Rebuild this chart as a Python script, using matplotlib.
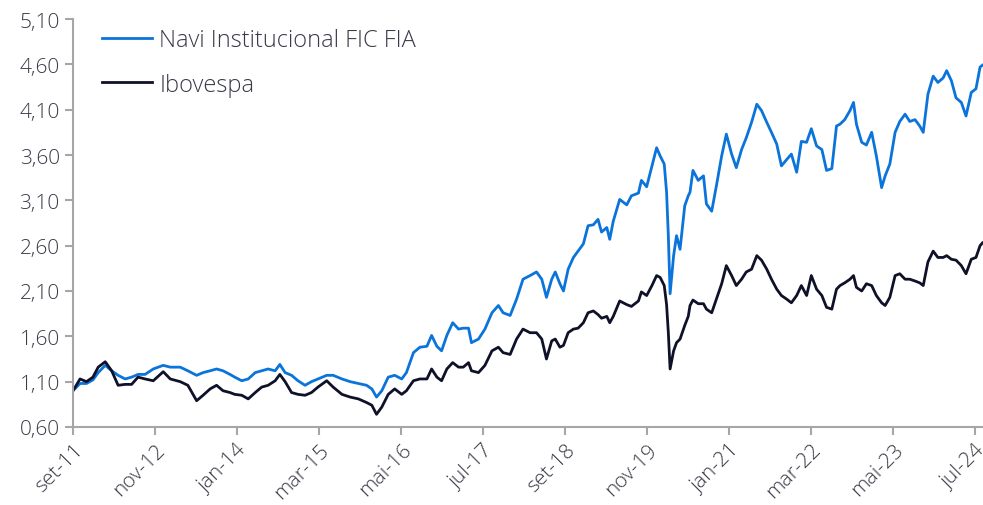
import matplotlib
matplotlib.use("Agg")
import matplotlib.pyplot as plt

# months since set-11 (x positions)
months = [
    0.0, 1.2, 2.3, 3.4, 4.3, 5.5, 6.6, 7.7, 8.9, 10.0, 11.1, 12.3, 13.7, 15.4,
    16.6, 18.3, 19.6, 21.1, 22.2, 23.4, 24.5, 25.6, 26.8, 27.6, 28.8, 29.9,
    31.1, 32.2, 33.3, 34.5, 35.3, 36.2, 37.3, 38.4, 39.6, 40.7, 41.8, 43.3,
    44.4, 45.9, 47.3, 48.7, 50.1, 51.0, 51.8, 52.7, 53.8, 54.9, 56.1, 56.9,
    58.1, 59.2, 60.4, 61.2, 62.1, 62.9, 63.8, 64.8, 65.8, 66.6, 67.5, 68.0,
    69.2, 70.3, 71.5, 72.6, 73.4, 74.6, 75.7, 76.8, 78.0, 79.1, 80.0, 80.8,
    81.7, 82.3, 83.1, 83.7, 84.5, 85.4, 86.2, 87.1, 87.9, 88.8, 89.6, 90.2,
    91.1, 91.6, 92.2, 93.3, 94.5, 95.3, 96.5, 97.0, 97.9, 98.8, 99.6, 100.2,
    100.9, 101.3, 101.6, 101.9, 102.5, 103.0, 103.6, 104.4, 105.0, 105.3,
    105.8, 106.7, 107.6, 108.1, 109.0, 109.8, 110.7, 111.5, 112.4, 113.2,
    114.1, 114.9, 115.8, 116.7, 117.5, 118.4, 119.2, 120.1, 120.9, 121.8,
    122.6, 123.5, 124.3, 125.2, 126.0, 126.9, 127.8, 128.6, 129.5, 130.3,
    130.9, 131.7, 132.6, 133.2, 133.7, 134.6, 135.4, 136.3, 137.1, 138.0,
    138.6, 139.4, 140.3, 141.1, 142.0, 142.8, 143.7, 144.5, 145.1, 145.9,
    146.8, 147.6, 148.5, 149.1, 149.9, 150.7, 151.6, 152.4, 153.3, 154.1,
    154.8, 155.2,
]

navi = [
    1.00, 1.08, 1.08, 1.12, 1.20, 1.28, 1.22, 1.17, 1.13, 1.15, 1.18, 1.18, 1.24, 1.28,
    1.26, 1.26, 1.22, 1.17, 1.20, 1.22, 1.24, 1.22, 1.18, 1.15, 1.11, 1.13,
    1.20, 1.22, 1.24, 1.22, 1.29, 1.20, 1.17, 1.11, 1.06, 1.10, 1.13, 1.17,
    1.17, 1.13, 1.10, 1.08, 1.06, 1.02, 0.93, 1.00, 1.15, 1.17, 1.13, 1.20,
    1.42, 1.48, 1.49, 1.61, 1.49, 1.44, 1.61, 1.75, 1.68, 1.69, 1.69, 1.53,
    1.57, 1.68, 1.86, 1.94, 1.86, 1.83, 2.01, 2.23, 2.27, 2.31, 2.23, 2.03,
    2.23, 2.31, 2.18, 2.10, 2.34, 2.47, 2.54, 2.62, 2.82, 2.83, 2.89, 2.75,
    2.80, 2.67, 2.87, 3.11, 3.05, 3.15, 3.18, 3.32, 3.25, 3.48, 3.68, 3.59,
    3.50, 3.19, 2.71, 2.07, 2.49, 2.71, 2.56, 3.04, 3.15, 3.19,
    3.43, 3.32, 3.37, 3.06, 2.98, 3.26, 3.59, 3.83, 3.61, 3.46,
    3.66, 3.79, 3.96, 4.16, 4.09, 3.96, 3.85, 3.72, 3.48, 3.55,
    3.61, 3.41, 3.75, 3.74, 3.89, 3.70, 3.66, 3.43, 3.45, 3.92,
    3.94, 3.99, 4.09, 4.18, 3.94, 3.74, 3.71, 3.85, 3.59, 3.24,
    3.37, 3.50, 3.85, 3.97, 4.05, 3.97, 3.99, 3.92, 3.85, 4.27,
    4.47, 4.40, 4.45, 4.53, 4.42, 4.23, 4.18, 4.03, 4.29, 4.33,
    4.57, 4.59,
]

ibov = [
    1.00, 1.13, 1.10, 1.15, 1.26, 1.32, 1.22, 1.06, 1.07, 1.07, 1.15, 1.13, 1.11, 1.21,
    1.13, 1.10, 1.06, 0.89, 0.95, 1.02, 1.06, 1.00, 0.98, 0.96, 0.95, 0.91,
    0.98, 1.04, 1.06, 1.11, 1.18, 1.10, 0.98, 0.96, 0.95, 0.98, 1.04, 1.11,
    1.04, 0.96, 0.93, 0.91, 0.87, 0.84, 0.74, 0.82, 0.96, 1.02, 0.96, 1.00,
    1.11, 1.13, 1.13, 1.24, 1.15, 1.11, 1.24, 1.31, 1.26, 1.26, 1.31, 1.22,
    1.20, 1.28, 1.44, 1.48, 1.42, 1.40, 1.57, 1.68, 1.64, 1.64, 1.57, 1.35,
    1.55, 1.57, 1.48, 1.50, 1.64, 1.68, 1.69, 1.75, 1.86, 1.88, 1.84, 1.80,
    1.82, 1.75, 1.82, 1.99, 1.95, 1.93, 1.99, 2.09, 2.05, 2.16, 2.27, 2.25,
    2.16, 1.95, 1.64, 1.24, 1.44, 1.53, 1.57, 1.72, 1.82, 1.94,
    2.00, 1.96, 1.96, 1.90, 1.86, 2.01, 2.18, 2.38, 2.27, 2.16,
    2.23, 2.31, 2.34, 2.49, 2.44, 2.34, 2.23, 2.12, 2.05, 2.01,
    1.97, 2.05, 2.16, 2.05, 2.27, 2.12, 2.05, 1.92, 1.90, 2.12,
    2.16, 2.19, 2.23, 2.27, 2.14, 2.10, 2.18, 2.16, 2.05, 1.97,
    1.94, 2.03, 2.27, 2.29, 2.23, 2.23, 2.21, 2.19, 2.16, 2.42,
    2.54, 2.47, 2.47, 2.49, 2.45, 2.44, 2.38, 2.29, 2.45, 2.47,
    2.60, 2.63,
]

tick_months = [0, 14, 28, 42, 56, 70, 84, 98, 112, 126, 140, 154]
tick_labels = ["set-11", "nov-12", "jan-14", "mar-15", "mai-16", "jul-17",
               "set-18", "nov-19", "jan-21", "mar-22", "mai-23", "jul-24"]
y_ticks = [0.60, 1.10, 1.60, 2.10, 2.60, 3.10, 3.60, 4.10, 4.60, 5.10]

plt.rcParams['font.family'] = ['Open Sans', 'DejaVu Sans']
plt.rcParams['font.weight'] = 'light'
text_color = "#3a3a48"
axis_color = "#a6a6a6"

fig = plt.figure(figsize=(9.83, 5.06), dpi=100)
ax = fig.add_axes([73 / 983, 78 / 506, 910 / 983, 408 / 506])

ax.plot(months, navi, color="#0a74da", lw=2.0, label="Navi Institucional FIC FIA")
ax.plot(months, ibov, color="#0f1129", lw=2.0, label="Ibovespa")

ax.set_xlim(0, 155.3)
ax.set_ylim(0.60, 5.10)
ax.set_yticks(y_ticks)
ax.set_yticklabels([f"{v:.2f}".replace(".", ",") for v in y_ticks])
ax.set_xticks(tick_months)
ax.set_xticklabels(tick_labels, rotation=45, ha="right", rotation_mode="anchor")

for side in ("top", "right"):
    ax.spines[side].set_visible(False)
for side in ("left", "bottom"):
    ax.spines[side].set_color(axis_color)
    ax.spines[side].set_linewidth(1.5)
ax.tick_params(axis="both", colors=axis_color, width=1.5, length=6,
               labelcolor=text_color, labelsize=15)
ax.tick_params(axis="x", pad=3)

ax.legend(loc="upper left", bbox_to_anchor=(0.021, 1.0), frameon=False,
          fontsize=17, labelcolor=text_color, handlelength=2.15,
          handletextpad=0.3, labelspacing=0.86, borderaxespad=0.0)

fig.savefig("out.png", dpi=100)
